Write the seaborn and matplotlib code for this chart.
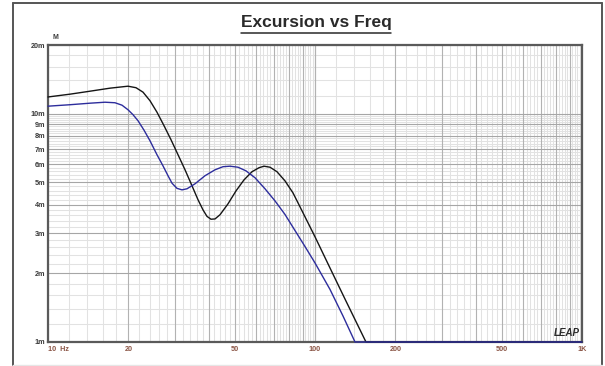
import numpy as np
import pandas as pd
import matplotlib
matplotlib.use("Agg")
import matplotlib.pyplot as plt
from matplotlib.lines import Line2D
from matplotlib.ticker import FixedLocator, FixedFormatter, NullFormatter
import seaborn as sns

# Cone excursion (mm) vs frequency (Hz), two curves
freq_black = [10, 12.09, 14.36, 17.07, 19.93, 21.36, 22.69, 24.10, 25.60, 27.20, 28.89,
              30.69, 32.60, 34.63, 36.46, 38.07, 39.40, 40.78, 42.22, 44.08, 47.23,
              50.59, 54.21, 58.07, 61.70, 64.42, 67.84, 72.05, 77.20, 82.71, 87.87,
              100, 113.8, 129.6, 155.2, 170, 200, 300, 500, 1000]
exc_black = [11.84, 12.18, 12.55, 12.94, 13.20, 13.00, 12.43, 11.40, 10.15, 8.86, 7.69,
             6.61, 5.68, 4.83, 4.20, 3.79, 3.55, 3.45, 3.46, 3.61, 4.03,
             4.59, 5.13, 5.57, 5.80, 5.89, 5.83, 5.57, 5.08, 4.50, 3.91,
             2.89, 2.11, 1.54, 1.00, 0.80, 0.50, 0.18, 0.06, 0.02]

freq_blue = [10, 12.09, 14.36, 16.35, 17.82, 18.93, 19.93, 20.82, 21.73, 22.89, 24.10,
             25.60, 26.96, 28.15, 29.14, 30.42, 31.76, 33.16, 35.52, 38.73, 42.22,
             45.22, 48.03, 51.47, 55.15, 59.63, 64.97, 70.83, 77.20, 82.71, 91.73,
             100, 113.8, 127.3, 141.2, 160, 200, 300, 500, 1000]
exc_blue = [10.79, 10.95, 11.12, 11.23, 11.17, 10.90, 10.41, 9.90, 9.32, 8.47, 7.61,
            6.61, 5.91, 5.35, 4.96, 4.71, 4.64, 4.69, 4.93, 5.35, 5.68,
            5.86, 5.89, 5.83, 5.62, 5.24, 4.69, 4.15, 3.62, 3.18, 2.62,
            2.22, 1.70, 1.30, 1.00, 0.75, 0.45, 0.16, 0.05, 0.02]

x_ticks = [10, 20, 50, 100, 200, 500, 1000]
x_tick_labels = ["10  Hz", "20", "50", "100", "200", "500", "1K"]
y_ticks = [1, 2, 3, 4, 5, 6, 7, 8, 9, 10, 20]
y_tick_labels = ["1m", "2m", "3m", "4m", "5m", "6m", "7m", "8m", "9m", "10m", "20m"]

Y_MIN, Y_MAX = 1, 20
X_MIN, X_MAX = 10, 1000

sns.set_theme(style="white")
plt.rcParams["font.family"] = ["Liberation Sans", "DejaVu Sans"]

fig = plt.figure(figsize=(6.05, 3.66), dpi=100)
ax = fig.add_axes([48 / 605, 1 - 342 / 366, (582 - 48) / 605, (342 - 45) / 366])

df = pd.concat([
    pd.DataFrame({"freq": freq_black, "exc": exc_black, "curve": "black"}),
    pd.DataFrame({"freq": freq_blue, "exc": exc_blue, "curve": "blue"}),
])
# values below the lower limit are pinned to the bottom edge
df["exc"] = df["exc"].clip(lower=Y_MIN)

sns.lineplot(data=df, x="freq", y="exc", hue="curve", sort=False, estimator=None,
             palette={"black": "#151515", "blue": "#2d2d9c"}, linewidth=1.0,
             legend=False, ax=ax, zorder=5)
for ln in ax.get_lines():
    ln.set_clip_on(False)
    ln.set_solid_joinstyle("round")

ax.set_xscale("log")
ax.set_yscale("log")
ax.set_xlim(X_MIN, X_MAX)
ax.set_ylim(Y_MIN, Y_MAX)

# grid: darker lines on 1-2-3..., light lines on every 0.2 step of a decade
x_major = [m * d for d in (10, 100) for m in range(1, 11)]
x_minor = [m / 5 * d for d in (10, 100) for m in range(5, 50) if m % 5]
y_major = list(range(1, 11)) + [20]
y_minor = [m / 5 for m in range(5, 50) if m % 5] + [12, 14, 16, 18]
for v in x_minor:
    ax.axvline(v, color="#e2e2e2", lw=0.75, zorder=1)
for v in y_minor:
    ax.axhline(v, color="#e2e2e2", lw=0.75, zorder=1)
for v in x_major:
    ax.axvline(v, color="#b2b2b2", lw=0.8, zorder=2)
for v in y_major:
    ax.axhline(v, color="#a6a6a6", lw=0.8, zorder=2)

ax.xaxis.set_major_locator(FixedLocator(x_ticks))
ax.xaxis.set_major_formatter(FixedFormatter(x_tick_labels))
ax.xaxis.set_minor_formatter(NullFormatter())
ax.yaxis.set_major_locator(FixedLocator(y_ticks))
ax.yaxis.set_major_formatter(FixedFormatter(y_tick_labels))
ax.yaxis.set_minor_formatter(NullFormatter())
ax.tick_params(axis="both", which="both", length=0)
ax.tick_params(axis="x", pad=3, labelsize=5.2, labelcolor="#8a5444")
ax.tick_params(axis="y", pad=2, labelsize=5.2, labelcolor="#3a3a3a")
for lbl in ax.get_xticklabels() + ax.get_yticklabels():
    lbl.set_fontweight("bold")
ax.get_xticklabels()[0].set_horizontalalignment("left")
ax.set_xlabel("")
ax.set_ylabel("")

for side in ("left", "right", "top", "bottom"):
    ax.spines[side].set_visible(True)
    ax.spines[side].set_color("#5a5a5a")
    ax.spines[side].set_linewidth(1.6)
    ax.spines[side].set_zorder(4)

ax.text(0.008, 1.012, "M", transform=ax.transAxes, fontsize=5, fontweight="bold",
        color="#3a3a3a", ha="left", va="bottom")
ax.text(0.995, 0.012, "LEAP", transform=ax.transAxes, fontsize=7, fontweight="bold",
        fontstyle="italic", color="#2a2a2a", ha="right", va="bottom", zorder=6)

# outer frame
frame_kw = dict(transform=fig.transFigure, color="#555555", lw=1.4)
x0, x1 = 12.5 / 605, 602 / 605
y0, y1 = 1 - 365 / 366, 1 - 2.5 / 366
fig.add_artist(Line2D([x0, x0], [y0, y1], **frame_kw))
fig.add_artist(Line2D([x0, x1], [y1, y1], **frame_kw))
fig.add_artist(Line2D([x1, x1], [y0, y1], **frame_kw))
fig.add_artist(Line2D([x0, x1], [y0, y0], transform=fig.transFigure, color="#e6e6e6", lw=1.0))

# underlined title
title = fig.text(316 / 605, 1 - 23 / 366, "Excursion vs Freq", fontsize=12.5,
                 fontweight="bold", color="#2a2a2a", ha="center", va="center")
fig.canvas.draw()
bb = title.get_window_extent().transformed(fig.transFigure.inverted())
uy = 1 - 32.5 / 366
fig.add_artist(Line2D([bb.x0, bb.x1], [uy, uy], transform=fig.transFigure,
                      color="#2a2a2a", lw=1.1))

fig.savefig("out.png", dpi=100)
